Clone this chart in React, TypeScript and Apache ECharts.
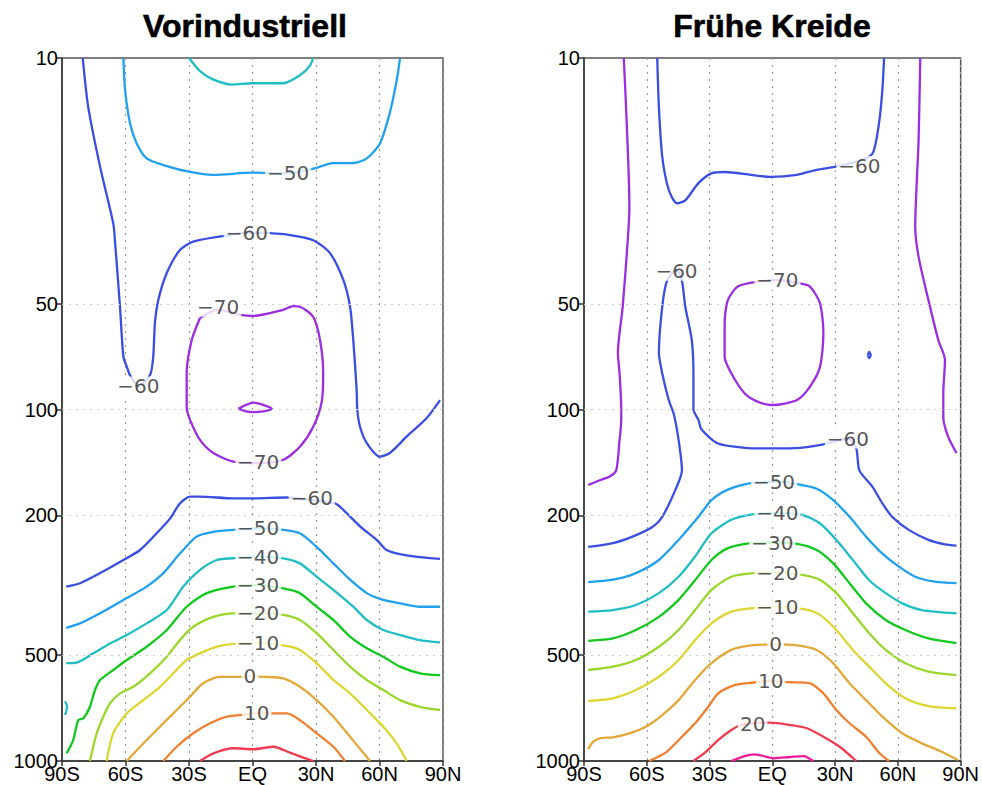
import React, { useEffect, useRef } from "react";
import * as echarts from "echarts";

type Pt = [number, number];
type Lbl = [number, number, string];

// ---------- axes ----------
const latTicks = [-90, -60, -30, 0, 30, 60, 90];
const pressureTicks = [10, 50, 100, 200, 500, 1000];
const pressureGridLines = [50, 100, 200, 500];
const panelTitles = ["Vorindustriell", "Frühe Kreide"];

// ---------- left panel (Vorindustriell): [lat, hPa] ----------
const L_m40_top: Pt[] = [[-30,10],[-24.8,10.9],[-18.7,11.5],[-9.7,11.9],[0,11.8],[14.4,11.8],[22.4,11.2],[27.2,10.5],[28.6,10]];
const L_m50_top: Pt[] = [[-61,10],[-60.2,12.3],[-57.9,15.3],[-54.7,17.5],[-50,19.3],[-40.5,20.3],[-29.5,21.1],[-18.7,21.5],[0,21.2],[16.8,21.3],[29.5,20.6],[38,19.9],[47.5,19.9],[54,19.3],[60.2,17.5],[64.9,14.3],[68.1,11.6],[69.7,10]];
const L_m60_top: Pt[] = [[-80.2,10],[-77.6,13.8],[-72,20.4],[-65.8,29.5],[-65,33],[-62.6,51],[-61,70.8],[-59.4,75.5],[-57.9,79.8],[-53.9,86],[-48.4,79.8],[-46.9,70.8],[-46.1,56.7],[-44.5,48.8],[-40.5,40.9],[-34.3,35.2],[-28,33.3],[-14,32.1],[-2.7,31.4],[8.3,31.5],[17.7,31.9],[28.7,33],[36.6,35.9],[42.9,42.8],[46.1,51],[47.6,63.4],[49.2,88],[49.5,100],[50.8,112],[54,124.6],[60.2,136.2],[64.9,133],[72.8,119.5],[82.3,105.7],[88.6,94]];
const L_m70_loop: Pt[] = [[-24.8,54.9],[-28.7,63.4],[-31.1,78.8],[-31.1,98.4],[-29.5,107],[-24.8,122],[-18.5,133],[-9.1,140.8],[2.7,142],[14.6,139],[22.4,127.6],[28.7,112],[32.7,95],[33.4,78.8],[31.9,63.4],[28.7,54.5],[22.4,51],[19.1,50.8],[14.4,52.1],[0.4,54.2],[-5.9,53.8],[-16.2,52],[-24.8,54.9]];
const L_m70_small: Pt[] = [[-6.7,99.5],[-3,97],[0.4,95.6],[5,97],[9.1,99.5],[5,101.3],[0.4,101.8],[-3,101.3],[-6.7,99.5]];
const L_m60_low: Pt[] = [[-88,319],[-81.5,312],[-72,292],[-61,268],[-53.1,251],[-45.3,225],[-38.9,204],[-34.3,185],[-29.5,177],[-24.8,177],[-9.1,179],[0.4,179],[16.2,178],[28,181],[39,185],[42.9,193],[50.8,215],[58.7,235],[63.4,251],[69.7,258],[79.1,263],[88.6,266]];
const L_m50_low: Pt[] = [[-88,418],[-81.5,406],[-72,380],[-59.4,344],[-50,319],[-42.1,292],[-34.3,257],[-26.4,230],[-18.5,223],[-9.1,220],[2.7,218],[14.6,220],[22.4,225],[30.3,246],[38.2,274],[46.1,305],[54,333],[61.8,348],[69.7,356],[79.1,364],[88.6,364]];
const L_m40_low: Pt[] = [[-88,527],[-83.1,525],[-75.2,494],[-67.3,463],[-59.4,438],[-50,406],[-40.5,372],[-32.7,319],[-24.8,286],[-16.9,268],[-9.1,265],[2.7,262],[14.6,265],[22.4,274],[30.3,299],[38.2,326],[47.6,364],[54,397],[61.8,424],[69.7,438],[79.1,453],[88.6,460]];
const L_m40_spot: Pt[] = [[-88.5,676],[-87.6,700],[-88.5,740]];
const L_m30: Pt[] = [[-87.8,951],[-84.7,872],[-82.3,765],[-79.9,756],[-76.8,701],[-74.4,628],[-72,588],[-65.8,551],[-59.4,516],[-50,473],[-40.5,424],[-31.1,364],[-21.6,333],[-9.1,319],[2.7,316],[14.6,323],[22.4,333],[30.3,364],[38.2,397],[46.1,443],[54,478],[61.8,505],[69.7,539],[79.1,563],[88.6,570]];
const L_m20: Pt[] = [[-76.8,1000],[-73.6,834],[-70.5,748],[-67.3,685],[-62.6,642],[-56.3,615],[-48.4,563],[-40.5,505],[-34.3,453],[-28,415],[-18.5,389],[-9.1,380],[2.7,380],[14.6,384],[22.4,397],[30.3,433],[38.2,483],[46.1,539],[54,588],[61.8,628],[69.7,671],[79.1,701],[88.6,716]];
const L_m10: Pt[] = [[-68.9,1000],[-65.8,834],[-59.4,732],[-51.6,671],[-43.7,615],[-37.4,563],[-31.1,516],[-24.8,494],[-16.9,473],[-9.1,464],[2.7,462],[14.6,469],[22.4,483],[30.3,527],[38.2,588],[46.1,642],[54,716],[61.8,799],[68.1,891],[72.8,1000]];
const L_0: Pt[] = [[-59.4,1000],[-53.1,911],[-45.3,816],[-37.4,732],[-29.5,656],[-23.3,601],[-15.4,576],[-5.9,576],[-1.2,574],[5.1,576],[14.6,582],[22.4,615],[30.3,671],[38.2,748],[46.1,853],[55.5,1000]];
const L_10: Pt[] = [[-42.1,1000],[-35.8,911],[-28,834],[-20.1,781],[-12.2,748],[-5.9,740],[2,732],[9.8,732],[16.2,732],[22.4,765],[30.3,834],[38.2,911],[43.7,1000]];
const L_20: Pt[] = [[-24.8,1000],[-18.5,951],[-9.1,920],[0.4,926],[9.8,911],[17.7,947],[24,978],[28.7,1000]];
const L_labels: Lbl[] = [[16.8,21.3,"\u221250"],[-2.7,31.4,"\u221260"],[-16.2,51,"\u221270"],[-53.9,86,"\u221260"],[2.7,141,"\u221270"],[28,178,"\u221260"],[2.7,218,"\u221250"],[2.7,262,"\u221240"],[2.7,316,"\u221230"],[2.7,380,"\u221220"],[2.7,462,"\u221210"],[-1.2,574,"0"],[2,732,"10"]];

// ---------- right panel (Frühe Kreide): [lat, hPa] ----------
const R_m70_left: Pt[] = [[-71,10],[-69.9,13.8],[-68.3,26.5],[-69.1,33],[-71.5,51],[-73.8,69],[-73,79],[-72.2,100],[-72.2,107],[-73,122],[-74.6,149],[-77.7,155],[-82.5,159],[-88,164]];
const R_m70_right: Pt[] = [[70.7,10],[69.9,17.1],[68.3,30.2],[69.9,36.8],[74.6,48.8],[79.3,63.4],[82.5,72.3],[81.7,90],[81.7,105],[84,119.5],[88,133]];
const R_m70_loop: Pt[] = [[-7.1,43.3],[-16.5,44.7],[-21.2,48.8],[-22.8,56.8],[-22.8,70.8],[-19.6,78.9],[-13.3,89.9],[-7.1,95],[0,97.1],[11.8,94],[18,86.1],[22.8,75.5],[24.4,60.7],[22.8,49.9],[18,44.7],[13.3,43.8],[2.4,42.8],[-7.1,43.3]];
const R_m60_top: Pt[] = [[-55,10],[-54.2,13.8],[-52.6,19.1],[-49.5,23.7],[-45.6,25.9],[-41.6,25.4],[-35.3,22.7],[-29.1,21.3],[-22.8,21.1],[-10.2,21.5],[-0.8,21.8],[11.8,21.5],[21.2,20.8],[29.8,20.4],[41.6,19.6],[47.9,18.7],[51,15.3],[52.6,12.3],[53.4,10]];
const R_m60_low: Pt[] = [[-88,246],[-76.2,240],[-66.8,230],[-57.3,216],[-52.6,202],[-46.3,169],[-43.2,149],[-44.8,122],[-47.1,103],[-49.5,94],[-52.6,79],[-54.2,69],[-52.6,51],[-50.3,43],[-45.8,40],[-43.2,43],[-41.6,51],[-38.5,63.4],[-37.7,79],[-37.7,100],[-35.3,107],[-33.8,114],[-25.9,125],[-13.3,128.5],[-0.8,129],[13.3,128.5],[24.4,125.6],[36.1,121],[40.1,129],[41.6,149],[47.9,166],[52.6,185],[57.3,202],[65.2,220],[74.6,235],[82.5,242],[88,244]];
const R_m60_dot: Pt[] = [[45.6,70],[46.3,68.6],[47,70],[46.3,71.4],[45.6,70]];
const R_m50: Pt[] = [[-88,310],[-76.2,305],[-65.2,292],[-54.2,268],[-44.8,235],[-35.3,202],[-29.1,181],[-21.2,169],[-10.2,162],[0.8,160.5],[11.8,163],[21.2,168],[29.1,181],[36.9,202],[44.8,230],[52.6,257],[60.5,280],[68.3,299],[77.7,309],[88,312]];
const R_m40: Pt[] = [[-88,376],[-76.2,372],[-65.2,360],[-54.2,333],[-44.8,299],[-36.9,262],[-29.1,225],[-19.6,206],[-10.2,199],[2.4,197],[14.9,200],[22.8,211],[30.6,235],[38.5,268],[46.3,306],[54.2,333],[62.1,356],[71.5,372],[88,380]];
const R_m30: Pt[] = [[-88,455],[-76.2,448],[-65.2,424],[-54.2,389],[-44.8,348],[-36.9,306],[-29.1,268],[-21.2,248],[-10.2,240],[0,239],[11.8,241],[21.2,251],[29.1,274],[36.9,312],[44.8,356],[54.2,397],[63.6,424],[74.6,448],[88,462]];
const R_m20: Pt[] = [[-88,551],[-76.2,539],[-65.2,516],[-54.2,473],[-44.8,424],[-36.9,372],[-29.1,326],[-19.6,299],[-10.2,292.5],[2.4,291],[14.9,296],[22.8,305.5],[30.6,333],[38.5,380],[46.3,433],[54.2,483],[63.6,527],[74.6,557],[88,570]];
const R_m10: Pt[] = [[-88,675],[-76.2,663],[-65.2,628],[-54.2,576],[-44.8,516],[-36.9,453],[-29.1,406],[-19.6,376],[-10.2,368],[2.4,365],[14.9,370],[22.8,384],[30.6,424],[38.5,483],[46.3,539],[54.2,601],[63.6,663],[74.6,698],[88,708]];
const R_0: Pt[] = [[-88,926],[-85.6,881],[-82.5,862],[-76.2,856],[-68.3,834],[-60.5,799],[-52.6,740],[-44.8,671],[-36.9,588],[-29.1,527],[-19.6,483],[-10.2,469],[1.6,466],[11.8,469],[21.2,483],[29.1,527],[36.9,601],[44.8,671],[52.6,748],[62.1,834],[71.5,891],[80.9,941],[88.7,994]];
const R_10: Pt[] = [[-58.9,1000],[-51,947],[-43.2,853],[-36.9,781],[-30.6,701],[-25.9,642],[-18,608],[-10.2,599],[-0.8,592],[8.6,597],[18,601],[24.4,642],[30.6,716],[36.9,781],[44.8,853],[51,947],[55.7,1000]];
const R_20: Pt[] = [[-37.7,1000],[-32.2,947],[-25.9,872],[-19.6,816],[-14.9,790],[-9.4,781],[-0.8,778],[8.6,790],[16.5,807],[24.4,853],[32.2,911],[40.1,1000]];
const R_30: Pt[] = [[-19.6,1000],[-13.3,968],[-8.6,957],[0.8,982],[8.6,974],[14.9,968],[19.6,1000]];
const R_labels: Lbl[] = [[41.6,20.3,"\u221260"],[-45.8,40.3,"\u221260"],[2.4,42.8,"\u221270"],[36.1,121,"\u221260"],[0.8,160.5,"\u221250"],[2.4,197,"\u221240"],[0,239,"\u221230"],[2.4,291,"\u221220"],[2.4,365,"\u221210"],[1.6,466,"0"],[-0.8,592,"10"],[-9.4,786,"20"]];

// ---------- styling ----------
const levelColor: Record<string, string> = {
  "-70": "#9a2ee0",
  "-60": "#3a4fe2",
  "-50": "#20a0ee",
  "-40": "#20bec2",
  "-30": "#12c81e",
  "-20": "#9ad62c",
  "-10": "#dcd632",
  "0": "#e2a83a",
  "10": "#ee8030",
  "20": "#ee3d52",
  "30": "#ee1a9a",
};

const leftContours: [string, Pt[]][] = [
  ["-40", L_m40_top], ["-50", L_m50_top], ["-60", L_m60_top], ["-70", L_m70_loop], ["-70", L_m70_small],
  ["-60", L_m60_low], ["-50", L_m50_low], ["-40", L_m40_low], ["-40", L_m40_spot], ["-30", L_m30],
  ["-20", L_m20], ["-10", L_m10], ["0", L_0], ["10", L_10], ["20", L_20],
];
const rightContours: [string, Pt[]][] = [
  ["-70", R_m70_left], ["-70", R_m70_right], ["-70", R_m70_loop], ["-60", R_m60_top], ["-60", R_m60_low],
  ["-60", R_m60_dot], ["-50", R_m50], ["-40", R_m40], ["-30", R_m30], ["-20", R_m20], ["-10", R_m10],
  ["0", R_0], ["10", R_10], ["20", R_20], ["30", R_30],
];

const lg = (p: number) => Math.log10(p);
const latFmt = (v: number) => (v === 0 ? "EQ" : v < 0 ? `${-v}S` : `${v}N`);

function buildOption() {
  const grids = [
    { left: 62, top: 58, width: 381, height: 703 },
    { left: 584, top: 58, width: 382, height: 703 },
  ].map((g) => ({ ...g, show: true, borderColor: "#555", borderWidth: 1.5, backgroundColor: "transparent" }));

  const tickLog = pressureTicks.map(lg);
  const xAxes = [0, 1].map((i) => ({
    type: "value",
    gridIndex: i,
    min: latTicks[0],
    max: latTicks[latTicks.length - 1],
    interval: 30,
    axisLine: { show: true, onZero: false, lineStyle: { color: "#333", width: 1.5 } },
    axisTick: { show: true, length: 5, lineStyle: { color: "#333", width: 1.5 } },
    axisLabel: { formatter: latFmt, color: "#000", fontSize: 20, fontFamily: "Liberation Sans", margin: 3 },
    splitLine: { show: true, lineStyle: { color: "#999", width: 1.2, type: [2, 5] } },
  }));
  const yAxes = [0, 1].map((i) => ({
    type: "value",
    gridIndex: i,
    min: 1,
    max: 3,
    inverse: true,
    axisLine: { show: true, onZero: false, lineStyle: { color: "#333", width: 1.5 } },
    axisTick: { show: true, length: 5, customValues: tickLog, lineStyle: { color: "#333", width: 1.5 } },
    axisLabel: {
      customValues: tickLog,
      formatter: (v: number) => String(Math.round(Math.pow(10, v))),
      color: "#000",
      fontSize: 20,
      fontFamily: "Liberation Sans",
      margin: 4,
    },
    splitLine: { show: false },
  }));

  const series: any[] = [];
  [0, 1].forEach((i) => {
    series.push({
      type: "line",
      xAxisIndex: i,
      yAxisIndex: i,
      data: [[0, 2]],
      symbol: "none",
      lineStyle: { opacity: 0 },
      silent: true,
      z: 1,
      markLine: {
        silent: true,
        symbol: "none",
        label: { show: false },
        lineStyle: { color: "#cfcfcf", width: 1.2, type: [2, 5] },
        data: pressureGridLines.map((p) => ({ yAxis: lg(p) })),
      },
    });
  });

  const addContours = (list: [string, Pt[]][], i: number) => {
    list.forEach(([lev, pts]) => {
      series.push({
        type: "line",
        xAxisIndex: i,
        yAxisIndex: i,
        data: pts.map(([la, p]) => [la, lg(p)]),
        symbol: "none",
        showSymbol: false,
        smooth: 0.25,
        silent: true,
        z: 2,
        lineStyle: { color: levelColor[lev], width: 2.3 },
      });
    });
  };
  addContours(leftContours, 0);
  addContours(rightContours, 1);

  const addLabels = (list: Lbl[], i: number) => {
    series.push({
      type: "scatter",
      xAxisIndex: i,
      yAxisIndex: i,
      symbol: "circle",
      symbolSize: 1,
      silent: true,
      z: 5,
      itemStyle: { color: "rgba(0,0,0,0)" },
      data: list.map(([la, p, t]) => ({ value: [la, lg(p)], name: t })),
      label: {
        show: true,
        position: "inside",
        formatter: "{b}",
        color: "#2a2a2a",
        fontSize: 20,
        fontFamily: "DejaVu Sans",
        backgroundColor: "#fff",
        padding: [0, 2],
      },
    });
  };
  addLabels(L_labels, 0);
  addLabels(R_labels, 1);

  const titleX = [245, 772];
  return {
    animation: false,
    backgroundColor: "#fff",
    grid: grids,
    xAxis: xAxes,
    yAxis: yAxes,
    series,
    graphic: panelTitles.map((t, i) => ({
      type: "text",
      x: titleX[i],
      y: 26,
      style: {
        text: t,
        fill: "#000",
        stroke: "#000",
        lineWidth: 0.6,
        fontSize: 32,
        fontWeight: "bold",
        fontFamily: "Liberation Sans",
        textAlign: "center",
        textVerticalAlign: "middle",
        align: "center",
        verticalAlign: "middle",
      },
    })),
  };
}

export default function App() {
  const ref = useRef<HTMLDivElement>(null);
  useEffect(() => {
    if (!ref.current) return;
    const chart = echarts.init(ref.current, null, { renderer: "svg" });
    chart.setOption(buildOption() as any);
    return () => chart.dispose();
  }, []);
  return (
    <div
      ref={ref}
      style={{ position: "absolute", left: 0, top: 0, width: 982, height: 785, background: "#fff" }}
    />
  );
}
